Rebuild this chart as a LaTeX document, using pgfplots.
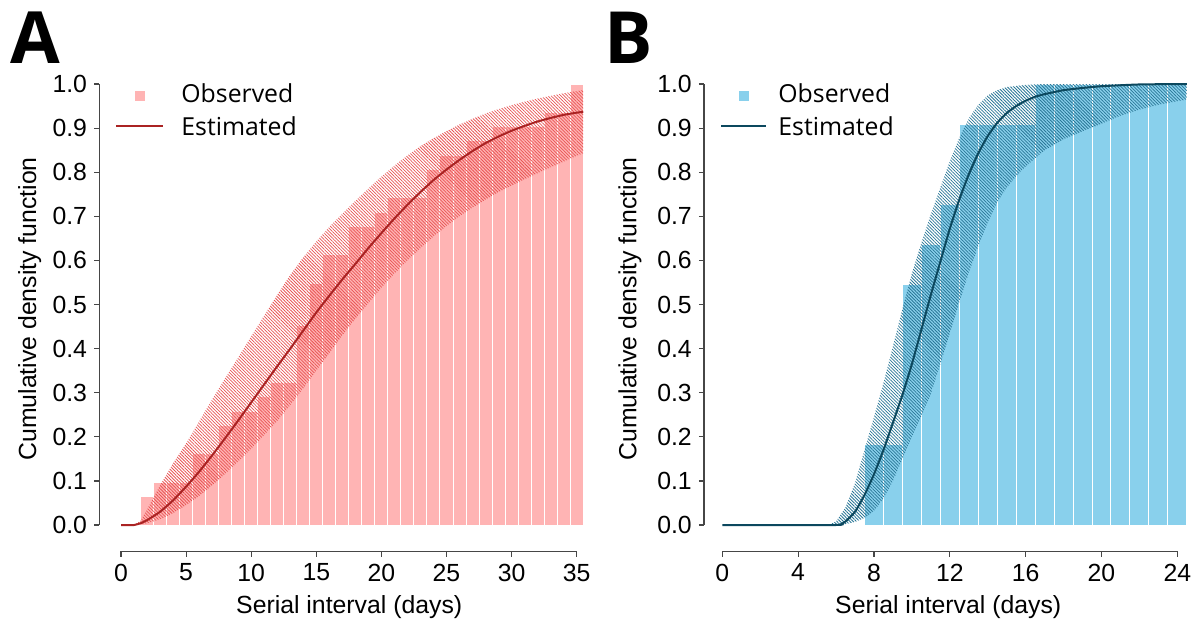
\documentclass[border=0pt]{standalone}
\usepackage{fontspec}
\setmainfont{Liberation Sans}
\newfontfamily\legfont{Open Sans}
\newfontfamily\letfont{Open Sans}
\usepackage{pgfplots}
\pgfplotsset{compat=1.18}
\usepgfplotslibrary{fillbetween}
\usetikzlibrary{patterns.meta}

\definecolor{barA}{RGB}{255,180,180}
\definecolor{lineA}{RGB}{170,35,35}
\definecolor{hatchA}{RGB}{232,85,85}
\definecolor{barB}{RGB}{137,208,236}
\definecolor{lineB}{RGB}{12,72,94}
\definecolor{hatchB}{RGB}{40,118,150}
\definecolor{axgray}{RGB}{70,70,70}

\pgfplotsset{
  panel/.style={
    scale only axis, clip=false, enlargelimits=false,
    axis x line*=bottom, axis y line*=left,
    axis line style={draw=none},
    tick align=outside, major tick length=2.6pt,
    tick style={axgray, line width=0.6pt},
    ymin=-0.06, ymax=1.04,
    ytick={0,0.1,0.2,0.3,0.4,0.5,0.6,0.7,0.8,0.9,1.0},
    yticklabels={0.0,0.1,0.2,0.3,0.4,0.5,0.6,0.7,0.8,0.9,1.0},
    /pgf/number format/assume math mode=true,
    tick label style={font=\fontsize{12.4}{14}\selectfont},
    xlabel={Serial interval (days)},
    ylabel={Cumulative density function},
    every axis x label/.style={at={(axis description cs:0.503,-0.127)}, anchor=base, font=\fontsize{12.4}{14}\selectfont},
    every axis y label/.style={at={(axis description cs:-0.14,0.5)}, anchor=center, rotate=90, font=\fontsize{12.4}{14}\selectfont},
    legend cell align=left,
    legend style={draw=none, fill=none, inner sep=0pt, anchor=north west, row sep=5pt,
      nodes={inner sep=0pt, text height=9pt, text depth=2.5pt, font=\legfont\fontsize{12.4}{14}\selectfont}},
  }
}

\begin{document}
\begin{tikzpicture}
\node[anchor=base west, inner sep=0pt, font=\letfont\bfseries\fontsize{36}{36}\selectfont] at (5pt,277.5pt) {A};
\node[anchor=base west, inner sep=0pt, font=\letfont\bfseries\fontsize{36}{36}\selectfont] at (302pt,277.5pt) {B};

% ---------------- Panel A ----------------
\begin{axis}[panel,
  at={(49.65pt,33.27pt)}, anchor=south west,
  width=248.45pt, height=242.55pt,
  xmin=-1.67, xmax=36.5,
  xtick={0,5,10,15,20,25,30,35},
  legend style={at={(axis description cs:0.0316,0.9643)}},
]
\addplot[ybar, bar width=1, bar shift=0pt, fill=barA, draw=white, line width=0.5pt,
  legend image code/.code={\path[draw=none,fill=none] (0pt,-3pt) rectangle (32.5pt,3pt); \fill[barA, draw=none] (9.3pt,-2.5pt) rectangle (14.3pt,2.5pt);}]
  table {
x y
2 0.0645
3 0.0968
4 0.0968
5 0.0968
6 0.1613
7 0.1613
8 0.2258
9 0.2581
10 0.2581
11 0.2903
12 0.3226
13 0.3226
14 0.4516
15 0.5484
16 0.6129
17 0.6129
18 0.6774
19 0.6774
20 0.7097
21 0.7419
22 0.7419
23 0.7419
24 0.8065
25 0.8387
26 0.8387
27 0.8710
28 0.8710
29 0.9032
30 0.9032
31 0.9032
32 0.9032
33 0.9355
34 0.9355
35 1.0
};
\addlegendentry{Observed}
\addplot[name path=upA, draw=none, forget plot] table {
x y
0 0
1 0
1.5 0.01
2 0.035
3 0.09
4 0.14
5 0.185
6 0.235
7 0.285
8 0.333
9 0.38
10 0.428
11 0.475
12 0.522
13 0.567
14 0.607
15 0.643
16 0.676
17 0.706
18 0.735
19 0.763
20 0.79
21 0.815
22 0.838
23 0.859
24 0.877
25 0.893
26 0.908
27 0.921
28 0.933
29 0.943
30 0.952
31 0.96
32 0.967
33 0.973
34 0.979
35 0.984
35.5 0.986
};
\addplot[name path=loA, draw=none, forget plot] table {
x y
0 0
1 0
1.5 0.001
2 0.004
3 0.013
4 0.027
5 0.045
6 0.066
7 0.09
8 0.116
9 0.144
10 0.173
11 0.204
12 0.236
13 0.272
14 0.31
15 0.35
16 0.39
17 0.43
18 0.468
19 0.503
20 0.538
21 0.57
22 0.6
23 0.628
24 0.654
25 0.678
26 0.7
27 0.72
28 0.738
29 0.755
30 0.77
31 0.784
32 0.798
33 0.811
34 0.824
35 0.837
35.5 0.843
};
\addplot[pattern={Lines[angle=-45,distance=1.15pt,line width=0.38pt]}, pattern color=hatchA, forget plot]
  fill between[of=upA and loA, on layer=main];
\addplot[lineA, line width=1pt, smooth, tension=0.3,
  legend image code/.code={\path[draw=none,fill=none] (0pt,-3pt) rectangle (32.5pt,3pt); \draw[lineA, line width=1pt] (0pt,1.4pt) -- (23.3pt,1.4pt);}]
  table {
x y
0 0
1 0
1.5 0.004
2 0.011
3 0.03
4 0.056
5 0.087
6 0.121
7 0.158
8 0.197
9 0.237
10 0.278
11 0.319
12 0.36
13 0.4
14 0.441
15 0.482
16 0.52
17 0.557
18 0.592
19 0.628
20 0.662
21 0.695
22 0.726
23 0.755
24 0.782
25 0.806
26 0.828
27 0.848
28 0.866
29 0.881
30 0.894
31 0.905
32 0.915
33 0.923
34 0.93
35 0.935
35.5 0.937
};
\addlegendentry{Estimated}
\draw[axgray, line width=0.6pt] (axis cs:0,-0.06) -- (axis cs:35,-0.06);
\draw[axgray, line width=0.6pt] (axis cs:-1.67,0) -- (axis cs:-1.67,1);
\end{axis}

% ---------------- Panel B ----------------
\begin{axis}[panel,
  at={(352pt,33.27pt)}, anchor=south west,
  width=244.25pt, height=242.55pt,
  xmin=-0.965, xmax=24.8,
  xtick={0,4,8,12,16,20,24},
  every axis x label/.style={at={(axis description cs:0.5,-0.127)}, anchor=base, font=\fontsize{12.4}{14}\selectfont},
  every axis y label/.style={at={(axis description cs:-0.1515,0.5)}, anchor=center, rotate=90, font=\fontsize{12.4}{14}\selectfont},
  legend style={at={(axis description cs:0.0328,0.9643)}},
]
\addplot[ybar, bar width=1, bar shift=0pt, fill=barB, draw=white, line width=0.5pt,
  legend image code/.code={\path[draw=none,fill=none] (0pt,-3pt) rectangle (28.5pt,3pt); \fill[barB, draw=none] (8.6pt,-2.5pt) rectangle (13.6pt,2.5pt);}]
  table {
x y
8 0.1818
9 0.1818
10 0.5455
11 0.6364
12 0.7273
13 0.9091
14 0.9091
15 0.9091
16 0.9091
17 1.0
18 1.0
19 1.0
20 1.0
21 1.0
22 1.0
23 1.0
24 1.0
};
\addlegendentry{Observed}
\addplot[name path=upB, draw=none, forget plot] table {
x y
0 0
5.6 0
6 0.008
6.5 0.04
7 0.095
7.5 0.17
8 0.245
8.5 0.322
9 0.405
9.5 0.49
10 0.57
10.5 0.64
11 0.705
11.5 0.765
12 0.825
12.5 0.878
13 0.922
13.5 0.953
14 0.974
14.5 0.986
15 0.993
16 0.998
17 1.0
24.5 1.0
};
\addplot[name path=loB, draw=none, forget plot] table {
x y
0 0
6 0
6.5 0.002
7 0.007
7.5 0.016
8 0.032
8.5 0.06
9 0.1
9.5 0.15
10 0.2
10.5 0.247
11 0.297
11.5 0.365
12 0.435
12.5 0.505
13 0.572
13.5 0.632
14 0.686
14.5 0.732
15 0.765
15.5 0.791
16 0.813
17 0.85
18 0.875
19 0.893
20 0.91
21 0.928
22 0.942
23 0.953
24 0.961
24.5 0.965
};
\addplot[pattern={Lines[angle=-45,distance=1.15pt,line width=0.38pt]}, pattern color=hatchB, forget plot]
  fill between[of=upB and loB, on layer=main];
\addplot[lineB, line width=1pt, smooth, tension=0.3,
  legend image code/.code={\path[draw=none,fill=none] (0pt,-3pt) rectangle (28.5pt,3pt); \draw[lineB, line width=1pt] (0pt,1.4pt) -- (22.5pt,1.4pt);}]
  table {
x y
0 0
6 0
6.3 0.003
6.5 0.008
7 0.03
7.5 0.068
8 0.115
8.5 0.17
9 0.232
9.5 0.295
10 0.365
10.5 0.443
11 0.522
11.5 0.597
12 0.672
12.5 0.738
13 0.795
13.5 0.843
14 0.882
14.5 0.912
15 0.934
15.5 0.95
16 0.962
16.5 0.971
17 0.977
18 0.986
19 0.991
20 0.995
22 0.999
24.5 1.0
};
\addlegendentry{Estimated}
\draw[axgray, line width=0.6pt] (axis cs:0,-0.06) -- (axis cs:24,-0.06);
\draw[axgray, line width=0.6pt] (axis cs:-0.965,0) -- (axis cs:-0.965,1);
\end{axis}
\pgfresetboundingbox
\path[use as bounding box] (0pt,0pt) rectangle (598pt,309pt);
\end{tikzpicture}
\end{document}
